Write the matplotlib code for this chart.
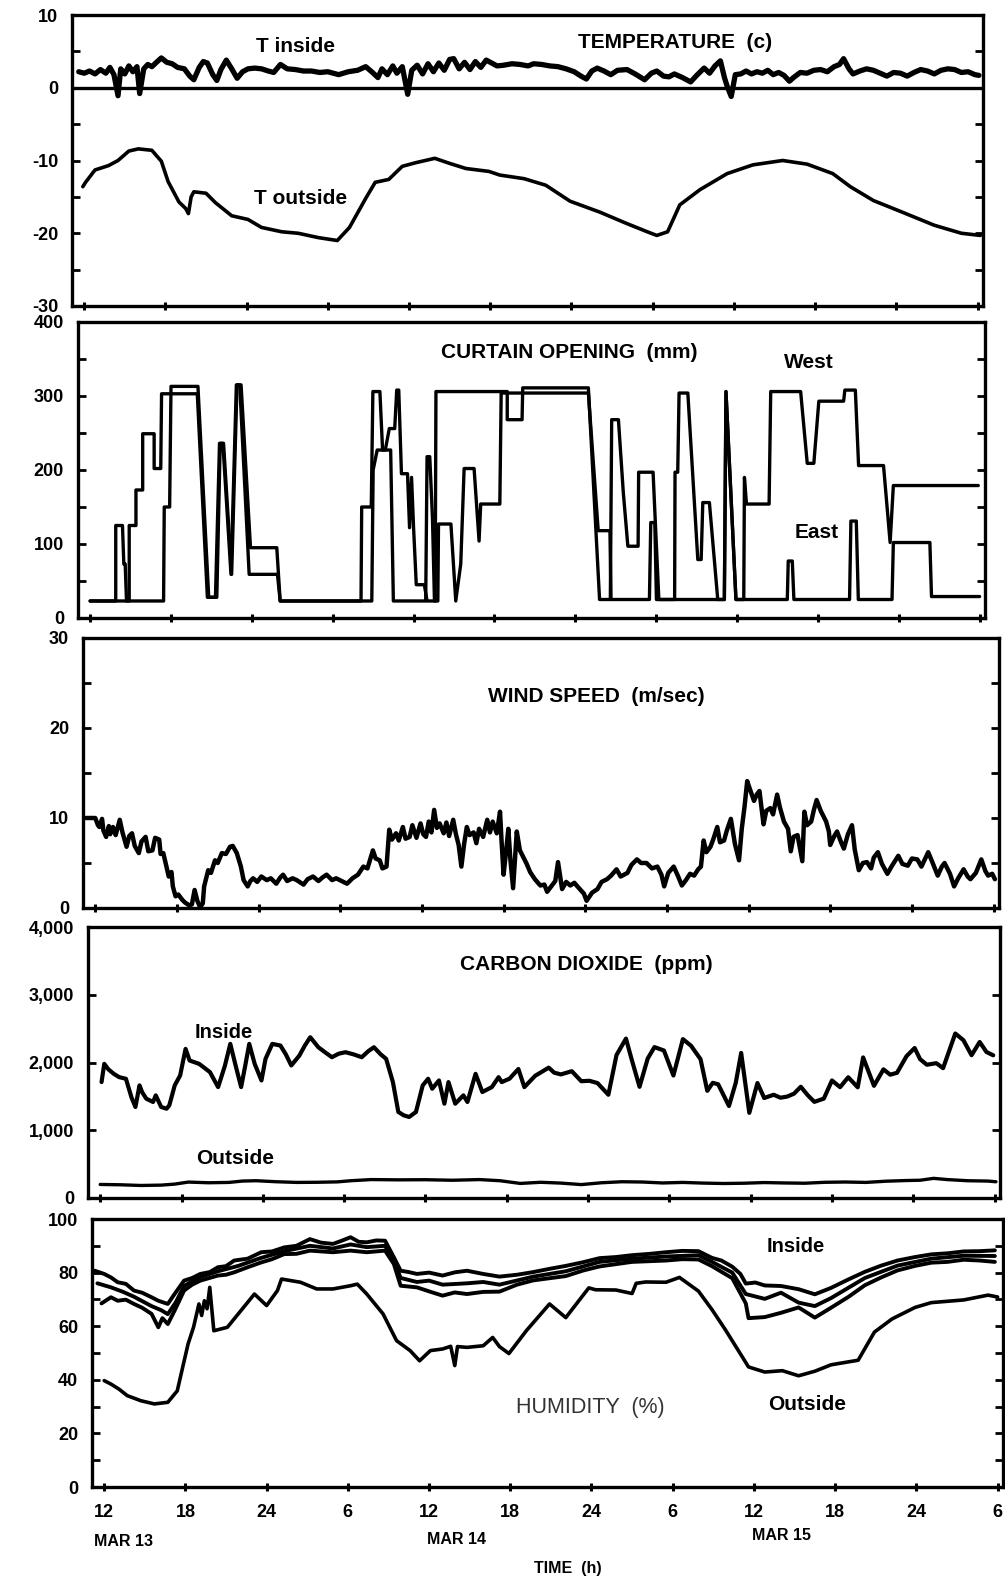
import numpy as np
import matplotlib
matplotlib.use("Agg")
import matplotlib.pyplot as plt
from matplotlib.ticker import MultipleLocator, FuncFormatter

plt.rcParams['font.family'] = ['Liberation Sans', 'DejaVu Sans']
plt.rcParams['axes.unicode_minus'] = False

# ---- data (hour counted from MAR 13 00:00, value) ----
t_inside = [
    (11.6, 2.2), (12.0, 2.0), (12.4, 2.3), (12.8, 1.9), (13.2, 2.5), (13.6, 2.0), (13.9, 2.8), (14.2, 1.8),
    (14.5, -1.1), (14.7, 2.6), (15.0, 1.9), (15.3, 3.0), (15.6, 2.2), (15.9, 2.9), (16.1, -0.8), (16.4, 2.6),
    (16.7, 3.2), (17.0, 2.9), (17.4, 3.6), (17.7, 4.1), (18.1, 3.5), (18.5, 3.3), (18.9, 2.8), (19.4, 2.6),
    (19.8, 1.6), (20.1, 1.1), (20.5, 2.8), (20.8, 3.6), (21.1, 3.4), (21.5, 1.8), (21.8, 1.0), (22.1, 2.5),
    (22.5, 3.8), (22.9, 2.6), (23.3, 1.3), (23.7, 2.2), (24.1, 2.6), (24.6, 2.7), (25.1, 2.6), (25.6, 2.3),
    (26.0, 2.1), (26.5, 3.2), (27.0, 2.6), (27.6, 2.5), (28.2, 2.3), (28.8, 2.3), (29.4, 2.1), (30.0, 2.2),
    (30.8, 1.8), (31.5, 2.2), (32.2, 2.4), (32.8, 2.9), (33.3, 2.1), (33.7, 1.4), (34.0, 2.6), (34.4, 1.8),
    (34.8, 3.0), (35.1, 2.0), (35.5, 2.9), (35.9, -0.9), (36.2, 2.4), (36.6, 3.1), (37.0, 1.9), (37.4, 3.3),
    (37.8, 2.2), (38.2, 3.4), (38.6, 2.4), (39.0, 3.9), (39.3, 4.0), (39.7, 2.6), (40.1, 3.5), (40.5, 2.5),
    (40.9, 3.6), (41.3, 2.8), (41.7, 3.8), (42.0, 3.5), (42.5, 3.0), (43.0, 3.1), (43.6, 3.3), (44.2, 3.2),
    (44.8, 3.0), (45.2, 3.3), (45.8, 3.2), (46.4, 3.0), (47.0, 2.9), (47.6, 2.6), (48.2, 2.2), (48.7, 1.6),
    (49.1, 1.2), (49.5, 2.3), (49.9, 2.7), (50.4, 2.3), (50.9, 1.8), (51.4, 2.4), (52.1, 2.5), (52.7, 1.9),
    (53.4, 1.1), (53.9, 2.0), (54.3, 2.3), (54.8, 1.6), (55.2, 1.5), (55.6, 1.9), (56.2, 1.4), (56.8, 0.8),
    (57.3, 1.8), (57.8, 2.7), (58.2, 2.0), (58.6, 3.0), (59.0, 3.7), (59.3, 1.4), (59.5, 0.2), (59.8, -1.2),
    (60.1, 1.8), (60.5, 1.9), (60.9, 2.3), (61.3, 1.9), (61.7, 2.2), (62.1, 2.0), (62.5, 2.4), (62.9, 1.8),
    (63.3, 2.1), (63.7, 1.7), (64.1, 0.9), (64.4, 1.4), (64.9, 2.1), (65.4, 2.0), (65.9, 2.4), (66.4, 2.5),
    (66.9, 2.2), (67.4, 2.9), (67.8, 3.2), (68.1, 4.0), (68.5, 2.6), (68.8, 1.9), (69.3, 2.3), (69.8, 2.6),
    (70.3, 2.4), (70.8, 2.0), (71.3, 1.6), (71.8, 2.1), (72.3, 2.0), (72.8, 1.6), (73.3, 2.1), (73.8, 2.5),
    (74.3, 2.3), (74.8, 1.9), (75.3, 2.4), (75.8, 2.6), (76.3, 2.5), (76.8, 2.1), (77.3, 2.2), (77.8, 1.8),
    (78.1, 1.7),
]

t_outside = [
    (11.9, -13.6), (12.1, -13.0), (12.8, -11.3), (13.8, -10.7), (14.5, -10.0), (15.3, -8.7), (16.0, -8.4),
    (17.0, -8.6), (17.7, -10.1), (18.2, -12.9), (19.0, -15.7), (19.5, -16.6), (19.7, -17.3), (19.9, -15.0),
    (20.1, -14.3), (21.0, -14.5), (21.7, -15.8), (22.9, -17.6), (24.1, -18.1), (25.1, -19.2), (26.6, -19.8),
    (27.8, -20.0), (29.3, -20.6), (30.7, -21.0), (31.6, -19.2), (32.8, -15.2), (33.5, -13.0), (34.5, -12.6),
    (35.5, -10.8), (36.5, -10.3), (37.9, -9.7), (39.0, -10.4), (40.2, -11.1), (41.9, -11.5), (42.7, -12.0),
    (44.5, -12.5), (46.1, -13.4), (47.9, -15.6), (50.1, -17.1), (52.0, -18.6), (53.6, -19.8), (54.3, -20.3),
    (55.1, -19.8), (56.0, -16.1), (57.5, -14.0), (59.5, -11.8), (61.4, -10.6), (63.6, -10.0), (65.4, -10.5),
    (67.3, -11.8), (68.6, -13.6), (70.3, -15.5), (72.3, -17.0), (74.8, -18.9), (76.8, -20.0), (78.2, -20.3),
]

curtain_west = [
    (12.0, 23), (14.9, 23), (14.9, 125), (15.4, 125), (15.4, 173), (15.9, 173), (15.9, 249), (16.75, 249),
    (16.75, 202), (17.24, 202), (17.3, 303), (19.95, 303), (20.7, 28), (21.3, 28), (21.6, 236), (21.9, 236),
    (22.5, 59), (22.9, 315), (23.2, 315), (23.9, 95), (25.85, 95), (26.1, 23), (32.1, 23), (32.15, 150),
    (32.86, 150), (32.98, 306), (33.5, 306), (33.7, 227), (34.3, 227), (34.5, 23), (36.9, 23), (37.0, 218),
    (37.2, 218), (37.4, 136), (37.55, 23), (37.8, 23), (37.85, 127), (38.77, 127), (39.13, 23), (39.5, 73),
    (39.75, 202), (40.49, 202), (40.86, 104), (40.98, 154), (42.4, 154), (42.5, 304), (48.97, 304),
    (49.7, 118), (50.57, 118), (50.65, 25), (53.5, 25), (53.6, 129), (53.9, 129), (54.02, 25), (59.06, 25),
    (59.18, 306), (59.92, 25), (60.5, 25), (60.55, 190), (60.7, 154), (62.38, 154), (62.5, 306), (64.72, 306),
    (65.21, 209), (65.7, 209), (66.07, 293), (67.91, 293), (68.0, 308), (68.78, 308), (69.02, 206),
    (70.87, 206), (71.36, 102), (71.6, 179), (77.9, 179),
]

curtain_east = [
    (12.0, 23), (13.9, 23), (13.9, 125), (14.4, 125), (14.5, 73), (14.6, 73), (14.7, 23), (17.45, 23),
    (17.5, 150), (17.9, 150), (18.0, 313), (20.0, 313), (20.8, 28), (21.4, 28), (21.65, 236), (21.85, 236),
    (22.45, 59), (22.85, 315), (23.1, 315), (23.8, 59), (25.9, 59), (26.1, 23), (32.9, 23), (33.0, 200),
    (33.3, 227), (33.9, 227), (34.2, 256), (34.6, 256), (34.75, 308), (34.9, 308), (35.1, 195), (35.55, 195),
    (35.7, 122), (35.85, 190), (36.0, 122), (36.2, 45), (36.8, 45), (37.0, 23), (37.6, 23), (37.66, 306),
    (42.95, 306), (42.95, 268), (44.05, 268), (44.1, 311), (48.97, 311), (49.8, 25), (50.6, 25), (50.7, 268),
    (51.2, 268), (51.56, 170), (51.9, 97), (52.66, 97), (52.7, 197), (53.77, 197), (54.2, 25), (55.37, 25),
    (55.4, 197), (55.6, 197), (55.7, 304), (56.35, 304), (57.09, 79), (57.34, 79), (57.46, 156), (57.95, 156),
    (58.57, 25), (59.06, 25), (59.18, 306), (59.92, 25), (63.73, 25), (63.8, 77), (64.1, 77), (64.22, 25),
    (68.35, 25), (68.45, 131), (68.85, 131), (69.0, 25), (71.5, 25), (71.6, 102), (74.31, 102), (74.43, 29),
    (78.0, 29),
]

wind = [
    (11.3, 10.0), (12.0, 10.0), (12.2, 9.2), (12.3, 9.0), (12.5, 9.9), (12.6, 8.6), (12.8, 7.9), (13.0, 9.1),
    (13.1, 8.2), (13.3, 9.0), (13.5, 8.1), (13.8, 9.8), (14.0, 8.4), (14.3, 6.8), (14.5, 8.0), (14.7, 8.3),
    (14.9, 6.9), (15.2, 6.1), (15.4, 7.4), (15.7, 7.9), (15.9, 6.3), (16.2, 6.4), (16.4, 7.8), (16.7, 7.6),
    (16.8, 6.0), (17.0, 6.1), (17.2, 4.8), (17.4, 3.5), (17.6, 4.0), (17.7, 2.4), (17.9, 1.3), (18.1, 1.5),
    (18.4, 0.9), (18.6, 0.6), (18.9, 0.3), (19.1, 0.4), (19.3, 2.0), (19.5, 0.8), (19.7, 0.1), (19.9, 0.5),
    (20.0, 2.4), (20.3, 4.2), (20.5, 3.9), (20.8, 5.3), (21.0, 5.0), (21.3, 6.1), (21.6, 6.0), (21.9, 6.8),
    (22.1, 6.9), (22.4, 6.1), (22.7, 4.6), (22.9, 3.1), (23.2, 2.4), (23.4, 3.0), (23.6, 3.3), (23.9, 2.9),
    (24.2, 3.5), (24.6, 3.1), (24.9, 3.3), (25.3, 2.7), (25.6, 3.4), (25.8, 3.7), (26.1, 3.0), (26.5, 3.3),
    (26.8, 3.1), (27.3, 2.6), (27.6, 3.2), (28.0, 3.5), (28.4, 3.0), (28.7, 3.4), (29.0, 3.7), (29.4, 3.1),
    (29.7, 3.3), (30.1, 3.0), (30.5, 2.7), (30.9, 3.3), (31.3, 3.7), (31.7, 4.6), (32.0, 4.4), (32.4, 6.4),
    (32.6, 5.5), (32.9, 5.3), (33.1, 4.4), (33.4, 4.6), (33.6, 8.7), (33.8, 7.6), (34.1, 8.3), (34.3, 7.5),
    (34.6, 9.0), (34.8, 7.7), (35.1, 7.9), (35.3, 9.2), (35.6, 7.8), (35.9, 9.4), (36.1, 8.2), (36.3, 7.9),
    (36.5, 9.6), (36.7, 8.4), (36.9, 10.9), (37.1, 8.9), (37.3, 9.4), (37.6, 8.3), (37.8, 9.5), (38.0, 8.0),
    (38.3, 9.8), (38.5, 8.2), (38.7, 7.0), (38.9, 4.6), (39.1, 7.1), (39.3, 9.0), (39.5, 8.1), (39.8, 8.4),
    (40.0, 7.2), (40.2, 8.8), (40.5, 7.9), (40.8, 9.8), (41.0, 8.4), (41.2, 9.6), (41.5, 8.3), (41.74, 10.7),
    (41.85, 7.5), (42.0, 3.7), (42.2, 6.5), (42.35, 8.8), (42.5, 5.4), (42.7, 2.2), (42.85, 5.8), (42.97, 8.5),
    (43.2, 6.4), (43.5, 5.5), (43.7, 4.9), (43.95, 4.0), (44.3, 3.2), (44.7, 2.5), (45.0, 2.6), (45.2, 1.8),
    (45.5, 2.4), (45.8, 3.0), (46.0, 5.1), (46.3, 2.1), (46.6, 2.9), (46.9, 2.5), (47.2, 2.8), (47.6, 2.1),
    (47.9, 1.6), (48.1, 0.8), (48.5, 1.7), (48.9, 2.1), (49.2, 2.9), (49.6, 3.2), (49.9, 3.6), (50.3, 4.3),
    (50.6, 3.5), (51.1, 3.9), (51.4, 4.8), (51.8, 5.4), (52.1, 5.0), (52.5, 5.0), (52.9, 4.4), (53.3, 4.6),
    (53.6, 3.7), (53.8, 2.4), (54.1, 3.9), (54.5, 4.6), (54.8, 3.6), (55.1, 2.5), (55.4, 3.1), (55.7, 3.8),
    (56.0, 3.6), (56.3, 4.3), (56.5, 4.6), (56.7, 7.5), (56.9, 6.2), (57.2, 6.8), (57.4, 7.6), (57.7, 9.0),
    (57.9, 7.3), (58.2, 7.5), (58.4, 8.6), (58.7, 9.9), (59.0, 7.1), (59.3, 5.3), (59.5, 8.8), (59.7, 11.2),
    (59.9, 14.1), (60.1, 13.2), (60.4, 11.9), (60.6, 12.6), (60.8, 13.0), (61.1, 9.3), (61.3, 10.8),
    (61.6, 11.1), (61.8, 10.4), (62.1, 12.6), (62.3, 11.2), (62.6, 9.6), (62.9, 8.8), (63.1, 6.3), (63.3, 7.9),
    (63.6, 8.1), (63.95, 5.2), (64.1, 10.7), (64.3, 9.2), (64.6, 9.6), (64.8, 10.9), (65.0, 12.0), (65.3, 10.8),
    (65.7, 9.6), (65.9, 8.5), (66.0, 7.0), (66.3, 8.0), (66.5, 8.5), (66.8, 7.3), (67.0, 6.6), (67.3, 8.2),
    (67.6, 9.2), (67.8, 6.5), (68.1, 4.2), (68.4, 5.0), (68.7, 5.1), (69.0, 4.4), (69.2, 5.6), (69.5, 6.2),
    (69.8, 4.9), (70.2, 3.8), (70.5, 4.6), (71.0, 5.8), (71.3, 4.9), (71.7, 4.7), (72.0, 5.5), (72.4, 5.4),
    (72.7, 4.6), (73.2, 6.2), (73.5, 5.1), (73.9, 3.6), (74.2, 4.6), (74.4, 5.0), (74.8, 3.8), (75.1, 2.4),
    (75.4, 3.3), (75.8, 4.3), (76.1, 3.5), (76.3, 3.2), (76.7, 3.9), (77.1, 5.4), (77.4, 4.1), (77.6, 3.6),
    (77.9, 3.8), (78.1, 3.2),
]

co2_inside = [
    (12.1, 1711), (12.3, 1980), (12.6, 1900), (13.0, 1833), (13.4, 1784), (13.9, 1760), (14.3, 1490),
    (14.6, 1343), (14.9, 1662), (15.1, 1560), (15.4, 1466), (15.9, 1417), (16.1, 1515), (16.5, 1343),
    (16.9, 1318), (17.1, 1368), (17.5, 1662), (17.9, 1809), (18.3, 2201), (18.6, 2029), (19.3, 1980),
    (20.1, 1858), (20.7, 1637), (21.2, 1950), (21.6, 2275), (22.0, 1950), (22.4, 1637), (22.7, 1950),
    (23.0, 2275), (23.4, 1980), (23.9, 1735), (24.2, 2054), (24.7, 2275), (25.3, 2250), (25.7, 2120),
    (26.1, 1956), (26.7, 2103), (27.1, 2250), (27.5, 2373), (28.1, 2225), (28.6, 2150), (29.1, 2078),
    (29.6, 2130), (30.1, 2152), (30.7, 2120), (31.3, 2078), (31.8, 2170), (32.2, 2225), (32.7, 2120),
    (33.1, 2054), (33.6, 1711), (34.0, 1270), (34.4, 1220), (34.8, 1196), (35.3, 1270), (35.8, 1662),
    (36.2, 1760), (36.5, 1613), (37.0, 1735), (37.4, 1392), (37.7, 1711), (38.2, 1392), (38.8, 1515),
    (39.1, 1417), (39.7, 1833), (40.2, 1564), (40.9, 1637), (41.4, 1784), (41.63, 1711), (42.2, 1760),
    (42.86, 1904), (43.3, 1637), (44.1, 1804), (45.1, 1924), (45.5, 1850), (46.0, 1824), (46.8, 1872),
    (47.5, 1724), (48.1, 1730), (48.7, 1696), (49.5, 1524), (50.1, 2110), (50.8, 2353), (51.2, 2059),
    (51.8, 1641), (52.4, 2057), (52.9, 2227), (53.6, 2177), (54.3, 1808), (55.0, 2345), (55.6, 2247),
    (56.3, 2050), (56.8, 1582), (57.2, 1700), (57.6, 1679), (58.4, 1358), (58.9, 1700), (59.3, 2141),
    (59.9, 1257), (60.5, 1697), (61.0, 1476), (61.7, 1524), (62.2, 1480), (62.7, 1497), (63.2, 1540),
    (63.7, 1642), (64.2, 1520), (64.7, 1419), (65.4, 1467), (66.0, 1735), (66.6, 1636), (67.2, 1782),
    (67.9, 1634), (68.3, 2075), (69.1, 1656), (69.8, 1899), (70.3, 1820), (70.8, 1848), (71.5, 2093),
    (72.1, 2214), (72.5, 2050), (73.0, 1967), (73.7, 1990), (74.2, 1916), (75.1, 2428), (75.7, 2329),
    (76.3, 2108), (76.9, 2303), (77.4, 2155), (77.9, 2106),
]

co2_outside = [
    (12.0, 200), (13.5, 195), (15.0, 185), (16.5, 190), (17.5, 205), (18.5, 235), (20.0, 225), (21.5, 230),
    (22.5, 250), (23.5, 255), (25.0, 240), (26.5, 230), (28.0, 232), (29.5, 238), (30.5, 255), (32.0, 272),
    (34.0, 268), (36.0, 270), (38.0, 262), (40.0, 272), (41.5, 255), (43.0, 215), (44.5, 232), (46.0, 220),
    (47.5, 198), (49.0, 225), (50.5, 240), (52.0, 236), (53.5, 222), (55.0, 230), (56.5, 220), (58.0, 214),
    (59.5, 218), (61.0, 228), (62.5, 222), (64.0, 218), (65.5, 232), (67.0, 236), (68.5, 230), (70.0, 248),
    (71.5, 258), (72.5, 262), (73.5, 290), (74.5, 272), (76.0, 255), (77.5, 250), (78.1, 240),
]

# three inside humidity sensors
hum_inside_a = [
    (11.3, 80.7), (12.0, 79.5), (12.5, 78.2), (13.0, 76.4), (13.6, 75.8), (14.2, 73.3), (14.8, 72.5),
    (15.5, 70.8), (16.0, 69.5), (16.7, 68.3), (17.2, 72.0), (17.9, 77.0), (18.5, 78.0), (19.1, 79.5),
    (19.8, 80.2), (20.4, 82.0), (21.0, 82.4), (21.6, 84.5), (22.6, 85.2), (23.6, 87.6), (24.4, 87.9),
    (25.3, 89.4), (26.2, 90.0), (27.2, 92.5), (28.0, 91.2), (28.9, 90.7), (29.5, 91.8), (30.2, 93.2),
    (30.8, 91.5), (31.4, 91.3), (32.1, 92.0), (32.75, 91.9), (33.4, 85.7), (33.9, 80.7), (34.5, 80.2),
    (35.1, 79.5), (36.0, 80.0), (37.0, 78.9), (37.9, 80.1), (38.8, 80.7), (40.0, 79.5), (41.2, 78.5),
    (42.5, 79.2), (43.7, 80.2), (45.0, 81.5), (46.1, 82.5), (47.4, 83.9), (48.6, 85.4), (49.8, 85.8),
    (51.0, 86.5), (52.3, 87.0), (53.5, 87.6), (54.7, 88.1), (55.9, 88.0), (56.9, 85.5), (57.6, 84.5),
    (58.4, 82.2), (59.0, 79.5), (59.4, 75.9), (60.1, 76.3), (60.8, 75.2), (62.0, 75.0), (63.3, 73.8),
    (64.5, 71.9), (65.7, 74.3), (67.0, 77.5), (68.2, 80.3), (69.4, 82.6), (70.6, 84.5), (71.9, 85.8),
    (73.1, 86.8), (74.3, 87.2), (75.5, 87.9), (76.7, 88.0), (77.8, 88.3),
]

hum_inside_b = [
    (11.8, 68.5), (12.5, 70.8), (13.0, 69.5), (13.6, 69.9), (14.2, 68.3), (14.8, 66.9), (15.5, 64.6),
    (16.0, 59.6), (16.3, 63.0), (16.7, 60.8), (17.2, 65.8), (17.9, 73.3), (18.5, 75.5), (19.1, 77.0),
    (20.4, 78.9), (21.0, 79.2), (21.6, 80.1), (22.6, 82.0), (23.6, 83.8), (24.4, 85.0), (25.3, 86.9),
    (26.2, 87.0), (27.2, 88.2), (28.9, 87.6), (30.2, 88.2), (31.4, 87.6), (32.75, 88.2), (33.4, 83.2),
    (33.9, 75.1), (35.1, 74.5), (36.0, 73.0), (37.0, 71.4), (37.9, 72.6), (38.8, 72.0), (40.0, 72.8),
    (41.2, 72.9), (42.5, 75.5), (43.7, 77.1), (46.1, 78.7), (47.4, 80.8), (48.6, 82.3), (51.0, 84.0),
    (53.5, 84.5), (54.7, 85.0), (55.9, 84.9), (56.9, 82.4), (58.4, 77.9), (59.4, 68.5), (59.6, 63.0),
    (60.8, 63.4), (62.0, 65.0), (63.3, 67.0), (64.5, 63.2), (65.7, 66.9), (67.0, 71.0), (68.2, 75.3),
    (69.4, 78.2), (70.6, 80.8), (71.9, 82.5), (73.1, 83.7), (74.3, 84.0), (75.5, 84.8), (76.7, 84.5),
    (77.8, 84.0),
]

hum_inside_c = [
    (11.5, 76.0), (12.5, 74.5), (13.4, 72.8), (14.2, 71.0), (15.5, 67.5), (16.2, 66.0), (16.7, 64.5),
    (17.3, 69.0), (17.9, 75.0), (19.0, 78.2), (20.4, 80.5), (21.9, 82.5), (23.6, 85.5), (25.3, 88.0),
    (27.2, 90.0), (28.9, 89.0), (30.2, 90.5), (31.4, 89.5), (32.75, 90.0), (33.4, 84.5), (33.9, 78.0),
    (35.1, 76.5), (36.0, 77.0), (37.0, 75.5), (38.8, 76.0), (40.0, 76.5), (41.2, 75.5), (43.7, 78.5),
    (46.1, 80.5), (48.6, 84.0), (51.0, 85.2), (53.5, 86.0), (55.9, 86.5), (56.9, 84.0), (58.4, 80.0),
    (59.4, 72.0), (60.8, 70.2), (62.0, 72.5), (63.3, 68.8), (64.5, 67.5), (65.7, 70.5), (68.2, 78.0),
    (70.6, 82.6), (73.1, 85.2), (75.5, 86.3), (77.8, 86.2),
]

hum_outside = [
    (12.0, 39.7), (12.5, 38.4), (13.1, 36.5), (13.7, 34.1), (14.7, 32.2), (15.7, 31.0), (16.7, 31.6),
    (17.4, 35.9), (17.8, 44.7), (18.2, 53.4), (18.6, 59.6), (19.0, 68.3), (19.2, 64.0), (19.4, 69.5),
    (19.6, 66.5), (19.8, 74.5), (20.1, 58.3), (21.1, 59.6), (22.1, 65.8), (23.1, 72.0), (24.0, 67.7),
    (24.8, 73.3), (25.1, 77.6), (26.5, 76.4), (27.7, 73.9), (28.9, 73.9), (30.2, 75.1), (30.7, 75.7),
    (31.4, 72.0), (32.6, 64.6), (33.6, 54.6), (34.6, 50.9), (35.3, 47.1), (36.1, 50.9), (37.0, 51.5),
    (37.6, 52.5), (37.9, 45.3), (38.1, 52.4), (38.8, 52.1), (40.0, 52.7), (40.7, 55.8), (41.2, 52.4),
    (41.9, 49.8), (43.2, 58.4), (44.9, 68.3), (46.1, 63.2), (47.8, 74.3), (48.3, 73.6), (49.8, 73.5),
    (51.0, 72.2), (51.3, 76.0), (52.0, 76.5), (53.5, 76.4), (54.5, 78.2), (55.9, 73.1), (56.9, 66.2),
    (57.9, 58.6), (58.9, 50.5), (59.6, 44.8), (60.8, 42.9), (62.1, 43.4), (63.3, 41.5), (64.5, 43.2),
    (65.7, 45.6), (67.7, 47.3), (68.9, 57.8), (70.2, 62.7), (71.9, 67.0), (73.1, 68.8), (75.5, 69.8),
    (77.3, 71.6), (78.0, 70.9),
]

hour_ticks = [12, 18, 24, 30, 36, 42, 48, 54, 60, 66, 72, 78]
hour_labels = ["12", "18", "24", "6", "12", "18", "24", "6", "12", "18", "24", "6"]

# ---- figure ----
W, H = 1005, 1579
fig = plt.figure(figsize=(W / 100, H / 100), dpi=100)
fig.patch.set_facecolor("white")


def panel(left, right, top, bottom):
    ax = fig.add_axes([left / W, 1 - bottom / H, (right - left) / W, (bottom - top) / H])
    for s in ax.spines.values():
        s.set_linewidth(2.4)
    ax.set_xlim(11.1, 78.4)
    ax.set_xticks(hour_ticks)
    ax.tick_params(axis="y", which="both", direction="in", left=True, right=True,
                   length=6, width=2.0, pad=10, labelsize=13)
    ax.tick_params(axis="x", direction="inout", length=6, width=2.2, top=False,
                   labelbottom=False)
    for lab in ax.get_yticklabels():
        lab.set_fontweight("bold")
    return ax


def draw(ax, series, lw):
    t, v = zip(*series)
    ax.plot(t, v, color="black", lw=lw, solid_joinstyle="round", solid_capstyle="round")


def label(x, y, s, size=15, weight="bold", color="black"):
    fig.text(x / W, 1 - y / H, s, ha="center", va="center", fontsize=size,
             fontweight=weight, color=color)


# temperature
ax1 = panel(72, 983, 15, 306)
ax1.set_ylim(-30, 10)
ax1.yaxis.set_major_locator(MultipleLocator(10))
ax1.yaxis.set_minor_locator(MultipleLocator(5))
ax1.axhline(0, color="black", lw=2.4)
draw(ax1, t_inside, 3.8)
draw(ax1, t_outside, 2.6)

# curtain opening
ax2 = panel(78, 985, 322, 618)
ax2.set_ylim(0, 400)
ax2.yaxis.set_major_locator(MultipleLocator(100))
ax2.yaxis.set_minor_locator(MultipleLocator(50))
draw(ax2, curtain_west, 2.4)
draw(ax2, curtain_east, 2.4)

# wind speed
ax3 = panel(83, 999, 638, 908)
ax3.set_ylim(0, 30)
ax3.yaxis.set_major_locator(MultipleLocator(10))
ax3.yaxis.set_minor_locator(MultipleLocator(5))
draw(ax3, wind, 3.2)

# carbon dioxide
ax4 = panel(88, 1000, 927, 1198)
ax4.set_ylim(0, 4000)
ax4.yaxis.set_major_locator(MultipleLocator(1000))
ax4.yaxis.set_major_formatter(FuncFormatter(lambda v, p: f"{int(v):,}"))
draw(ax4, co2_inside, 3.0)
draw(ax4, co2_outside, 2.4)

# humidity
ax5 = panel(92, 1003, 1219, 1487)
ax5.set_ylim(0, 100)
ax5.yaxis.set_major_locator(MultipleLocator(20))
ax5.yaxis.set_minor_locator(MultipleLocator(10))
ax5.tick_params(axis="x", labelbottom=True, labelsize=13, pad=9)
ax5.set_xticklabels(hour_labels, fontweight="bold")
draw(ax5, hum_inside_a, 2.8)
draw(ax5, hum_inside_b, 2.8)
draw(ax5, hum_inside_c, 2.8)
draw(ax5, hum_outside, 2.6)

for ax in (ax1, ax2, ax3, ax4, ax5):
    for lab in ax.get_yticklabels():
        lab.set_fontweight("bold")

# in-plot labels
label(295, 46, "T inside")
label(675, 42, "TEMPERATURE  (c)")
label(301, 198, "T outside")
label(569, 353, "CURTAIN OPENING  (mm)")
label(809, 363, "West")
label(817, 533, "East")
label(596, 697, "WIND SPEED  (m/sec)")
label(586, 965, "CARBON DIOXIDE  (ppm)")
label(224, 1032, "Inside", size=14.5)
label(235, 1158, "Outside")
label(796, 1247, "Inside", size=14.5)
label(590, 1408, "HUMIDITY  (%)", size=15.5, weight="normal", color="#333333")
label(807, 1405, "Outside")
label(123, 1542, "MAR 13", size=11.5)
label(456, 1539, "MAR 14", size=11.5)
label(782, 1535, "MAR 15", size=11.5)
label(568, 1568, "TIME  (h)", size=11.5)

fig.savefig("out.png", dpi=100, facecolor="white")
